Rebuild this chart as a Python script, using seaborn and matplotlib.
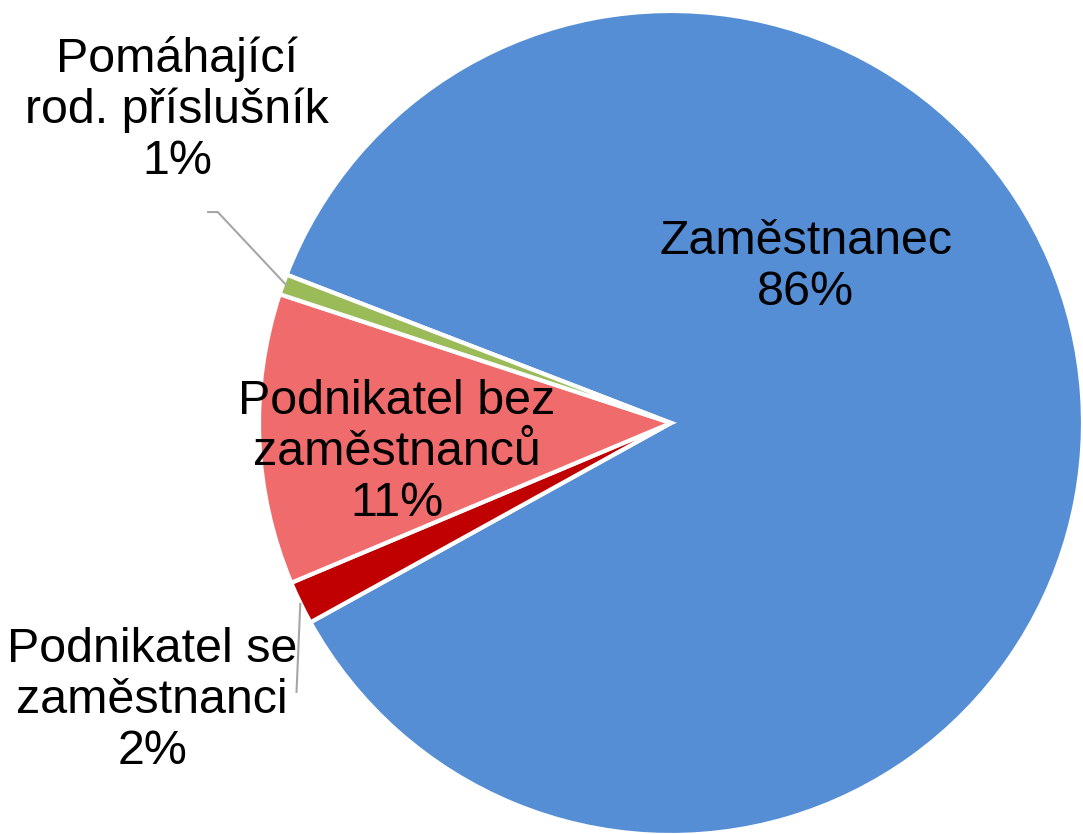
import numpy as np
import matplotlib
matplotlib.use("Agg")
import matplotlib.pyplot as plt
import seaborn as sns

# Data
categories = ["Zaměstnanec", "Podnikatel se\nzaměstnanci", "Podnikatel bez\nzaměstnanců", "Pomáhající\nrod. příslušník"]
shares = [86.1, 1.7, 11.4, 0.8]
colors = ["#558ED5", "#C00000", "#F06C6C", "#9BBB59"]

sns.set_theme(style="white")
plt.rcParams["font.family"] = ["Liberation Sans", "DejaVu Sans"]

W, H = 1083, 834
cx, cy, R = 671, 423, 412
fig = plt.figure(figsize=(W / 100, H / 100), dpi=100)
ax = fig.add_axes([0, 0, 1, 1])
ax.set_aspect("equal")
ax.axis("off")

wedges, _ = ax.pie(shares, colors=colors, startangle=158.9, counterclock=False,
                   radius=1.0, center=(0, 0),
                   wedgeprops=dict(edgecolor="white", linewidth=3))
ax.set_xlim(-cx / R, (W - cx) / R)
ax.set_ylim(-(H - cy) / R, cy / R)

label_pos = [(0.327, 0.378), (-1.259, -0.673), (-0.665, -0.071), (-1.199, 0.76)]
fs = 34.8
for cat, s, (lx, ly) in zip(categories, shares, label_pos):
    ax.text(lx, ly, f"{cat}\n{s:.0f}%", ha="center", va="center",
            fontsize=fs, color="black", linespacing=1.17)

# leader lines
def mid_angle(w):
    return np.deg2rad((w.theta1 + w.theta2) / 2)

a = mid_angle(wedges[3])
x0, y0 = 0.99 * np.cos(a), 0.99 * np.sin(a)
ax.plot([x0, -1.1, -1.126], [y0, 0.512, 0.512], color="#A6A6A6", lw=1.5, solid_capstyle="butt")

a = mid_angle(wedges[1])
x0, y0 = 1.0 * np.cos(a), 1.0 * np.sin(a)
ax.plot([x0, -0.909], [y0, -0.655], color="#A6A6A6", lw=1.5, solid_capstyle="butt")

fig.savefig("out.png", dpi=100, facecolor="white")
